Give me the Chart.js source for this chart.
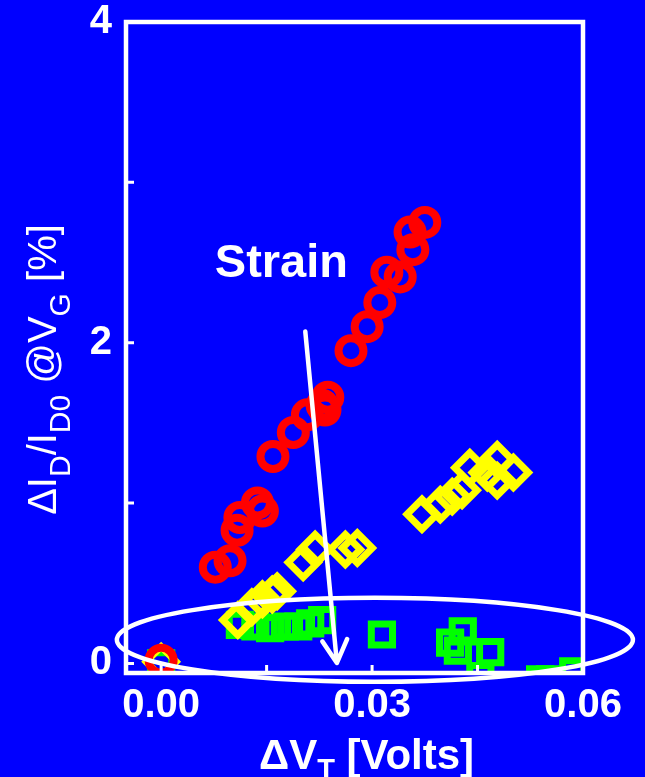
<!DOCTYPE html>
<html>
<head>
<meta charset="utf-8">
<script src="https://cdn.jsdelivr.net/npm/chart.js@4.4.1/dist/chart.umd.min.js"></script>
<style>
  html, body { margin: 0; padding: 0; background: #0000ff; }
  #wrap { width: 645px; height: 777px; }
</style>
</head>
<body>
<div id="wrap"><canvas id="chart" width="645" height="777"></canvas></div>
<script>
// drain current shift vs. threshold voltage shift, three device groups
const redX = [0.000, 0.0077, 0.0098, 0.0108, 0.0112, 0.0137, 0.0144, 0.0159, 0.0188, 0.0208, 0.0229, 0.0237, 0.0233, 0.0270, 0.0293, 0.0311, 0.0321, 0.0340, 0.0358, 0.0354, 0.0375];
const redY = [0.02, 0.60, 0.64, 0.83, 0.91, 1.00, 0.95, 1.29, 1.44, 1.55, 1.61, 1.66, 1.58, 1.95, 2.10, 2.25, 2.44, 2.41, 2.58, 2.69, 2.75];

const yellowX = [0.000, 0.0109, 0.0129, 0.0144, 0.0158, 0.0165, 0.0202, 0.0219, 0.0262, 0.0279, 0.0371, 0.0397, 0.0414, 0.0428, 0.0439, 0.0464, 0.0478, 0.0501, 0.0478];
const yellowY = [0.01, 0.27, 0.35, 0.40, 0.43, 0.45, 0.63, 0.71, 0.71, 0.72, 0.93, 0.99, 1.04, 1.08, 1.22, 1.19, 1.27, 1.19, 1.14];

const greenX = [0.000, 0.0112, 0.0134, 0.0155, 0.0176, 0.0195, 0.0212, 0.0229, 0.0314, 0.0411, 0.0429, 0.0422, 0.0468, 0.0454, 0.0539, 0.0553, 0.0586];
const greenY = [0.00, 0.24, 0.23, 0.22, 0.23, 0.23, 0.25, 0.27, 0.18, 0.13, 0.20, 0.08, 0.07, -0.08, -0.10, -0.10, -0.05];

const xTicks = [0, 0.015, 0.03, 0.045, 0.06];
const xLabels = ['0.00', '', '0.03', '', '0.06'];
const yTicks = [0, 1, 2, 3, 4];
const yLabels = ['0', '', '2', '', '4'];

// annotation: ellipse round the low points, arrow and its label
const ringCenter = [0.0304, 0.147];
const ringRadius = [0.0367, 0.262];
const arrowFrom = [0.0205, 2.07];
const arrowTo = [0.0250, 0.003];
const strainAt = [0.0171, 2.41];

const FONT = '"Liberation Sans", Arial, sans-serif';
const BLUE = '#0000ff';

const pts = (xs, ys) => xs.map((x, i) => ({ x: x, y: ys[i] }));

function drawRich(ctx, parts, x, y, size, subSize, subDrop, weight) {
  const fonts = parts.map(p => weight + ' ' + (p.sub ? subSize : size) + 'px ' + FONT);
  let total = 0;
  const widths = parts.map((p, i) => { ctx.font = fonts[i]; const w = ctx.measureText(p.t).width; total += w; return w; });
  let cx = x - total / 2;
  ctx.textAlign = 'left';
  ctx.textBaseline = 'alphabetic';
  parts.forEach((p, i) => {
    ctx.font = fonts[i];
    ctx.fillText(p.t, cx, y + (p.sub ? subDrop : 0));
    cx += widths[i];
  });
}

const decor = {
  id: 'decor',
  beforeDraw(chart) {
    const ctx = chart.ctx;
    ctx.save();
    ctx.fillStyle = BLUE;
    ctx.fillRect(0, 0, chart.width, chart.height);
    ctx.restore();
  },
  afterDatasetsDraw(chart) {
    const { ctx, chartArea: a, scales: { x, y } } = chart;
    ctx.save();
    ctx.strokeStyle = '#ffffff';
    ctx.lineWidth = 4.5;
    ctx.strokeRect(a.left, a.top, a.right - a.left, a.bottom - a.top);
    // inward tick marks
    ctx.lineWidth = 3;
    ctx.beginPath();
    yTicks.forEach(v => {
      const py = y.getPixelForValue(v);
      ctx.moveTo(a.left, py);
      ctx.lineTo(a.left + 8, py);
    });
    xTicks.forEach(v => {
      const px = x.getPixelForValue(v);
      ctx.moveTo(px, a.bottom);
      ctx.lineTo(px, a.bottom - 8);
    });
    ctx.stroke();
    ctx.restore();
  },
  afterDraw(chart) {
    const { ctx, chartArea: a, scales: { x, y } } = chart;
    ctx.save();
    ctx.strokeStyle = '#ffffff';
    ctx.fillStyle = '#ffffff';

    // ellipse
    const ex = x.getPixelForValue(ringCenter[0]);
    const ey = y.getPixelForValue(ringCenter[1]);
    const rx = x.getPixelForValue(ringCenter[0] + ringRadius[0]) - ex;
    const ry = ey - y.getPixelForValue(ringCenter[1] + ringRadius[1]);
    ctx.lineWidth = 4.5;
    ctx.beginPath();
    ctx.ellipse(ex, ey, rx, ry, 0, 0, Math.PI * 2);
    ctx.stroke();

    // arrow
    const x0 = x.getPixelForValue(arrowFrom[0]), y0 = y.getPixelForValue(arrowFrom[1]);
    const x1 = x.getPixelForValue(arrowTo[0]), y1 = y.getPixelForValue(arrowTo[1]);
    const ang = Math.atan2(y1 - y0, x1 - x0);
    ctx.lineWidth = 4.5;
    ctx.lineCap = 'round';
    ctx.lineJoin = 'round';
    ctx.beginPath();
    ctx.moveTo(x0, y0);
    ctx.lineTo(x1, y1);
    ctx.moveTo(x1 - 26 * Math.cos(ang - 0.5), y1 - 26 * Math.sin(ang - 0.5));
    ctx.lineTo(x1, y1);
    ctx.lineTo(x1 - 26 * Math.cos(ang + 0.5), y1 - 26 * Math.sin(ang + 0.5));
    ctx.stroke();

    // label
    ctx.font = 'bold 47px ' + FONT;
    ctx.textAlign = 'center';
    ctx.textBaseline = 'alphabetic';
    ctx.fillText('Strain', x.getPixelForValue(strainAt[0]), y.getPixelForValue(strainAt[1]));

    // x axis title
    drawRich(ctx, [{ t: 'ΔV' }, { t: 'T', sub: true }, { t: ' [Volts]' }],
      (a.left + a.right) / 2 + 12, 769, 42, 29, 10, 'bold');

    // y axis title, rotated
    ctx.translate(56, (a.top + a.bottom) / 2 + 22);
    ctx.rotate(-Math.PI / 2);
    drawRich(ctx, [{ t: 'ΔI' }, { t: 'D', sub: true }, { t: '/I' }, { t: 'D0', sub: true },
      { t: ' @V' }, { t: 'G', sub: true }, { t: ' [%]' }], 0, 0, 40, 30, 14, 'normal');
    ctx.restore();
  }
};

const pointSet = (data, color, style, radius, width) => ({
  data: data,
  pointStyle: style,
  pointRadius: radius,
  pointHoverRadius: radius,
  pointBorderWidth: width,
  pointBorderColor: color,
  pointBackgroundColor: 'rgba(0,0,0,0)',
  showLine: false,
  clip: 0
});

new Chart(document.getElementById('chart'), {
  type: 'scatter',
  data: {
    datasets: [
      pointSet(pts(redX, redY), '#ff0000', 'circle', 12.5, 8),
      pointSet(pts(yellowX, yellowY), '#ffff00', 'rectRot', 15, 7),
      pointSet(pts(greenX, greenY), '#00ff00', 'rect', 15, 7)
    ]
  },
  options: {
    responsive: false,
    animation: false,
    devicePixelRatio: 1,
    layout: { padding: { left: 0, right: 62, top: 22, bottom: 0 } },
    plugins: { legend: { display: false }, tooltip: { enabled: false } },
    scales: {
      x: {
        type: 'linear',
        min: -0.005,
        max: 0.06,
        afterBuildTicks: s => { s.ticks = xTicks.map(v => ({ value: v })); },
        afterFit: s => { s.height = 104; s.paddingLeft = 0; s.paddingRight = 0; },
        grid: { display: false, drawTicks: false },
        border: { display: false },
        ticks: {
          color: '#ffffff',
          font: { family: FONT, size: 40, weight: 'bold', lineHeight: 1 },
          padding: 13,
          maxRotation: 0,
          autoSkip: false,
          callback: (v, i) => xLabels[i]
        }
      },
      y: {
        type: 'linear',
        min: -0.06,
        max: 4,
        afterBuildTicks: s => { s.ticks = yTicks.map(v => ({ value: v })); },
        afterFit: s => { s.width = 126; s.paddingTop = 0; s.paddingBottom = 0; },
        grid: { display: false, drawTicks: false },
        border: { display: false },
        ticks: {
          color: '#ffffff',
          font: { family: FONT, size: 40, weight: 'bold', lineHeight: 1 },
          padding: 14,
          autoSkip: false,
          callback: (v, i) => yLabels[i]
        }
      }
    }
  },
  plugins: [decor]
});
</script>
</body>
</html>
